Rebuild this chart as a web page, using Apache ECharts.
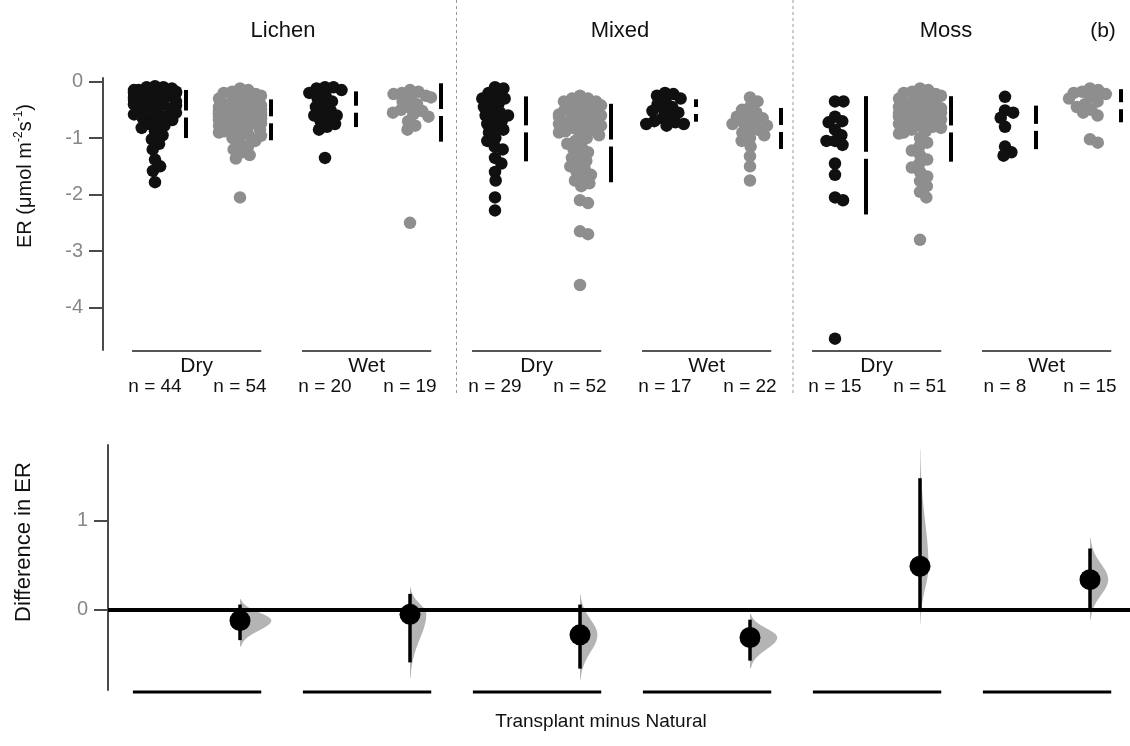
<!DOCTYPE html>
<html>
<head>
<meta charset="utf-8">
<script src="https://cdn.jsdelivr.net/npm/echarts@6/dist/echarts.min.js"></script>
<style>html,body{margin:0;background:#fff}#main{width:1130px;height:746px}</style>
</head>
<body>
<div id="main"></div>
<script>
var font = 'Liberation Sans, Arial, sans-serif';

// ER values, natural (black) and transplant (grey) for each habitat / moisture group
var lichenDryNat = [-0.08,-0.1,-0.1,-0.12,-0.15,-0.15,-0.18,-0.2,-0.2,-0.22,-0.25,-0.25,-0.28,-0.3,-0.3,-0.32,-0.35,-0.38,-0.4,-0.4,-0.42,-0.45,-0.48,-0.5,-0.52,-0.55,-0.58,-0.6,-0.62,-0.65,-0.68,-0.7,-0.75,-0.78,-0.82,-0.88,-0.95,-1.02,-1.1,-1.2,-1.38,-1.5,-1.58,-1.78];
var lichenDryTrans = [-0.12,-0.15,-0.18,-0.2,-0.22,-0.25,-0.28,-0.3,-0.32,-0.35,-0.38,-0.4,-0.42,-0.45,-0.45,-0.48,-0.5,-0.5,-0.52,-0.53,-0.55,-0.55,-0.56,-0.58,-0.58,-0.6,-0.6,-0.62,-0.63,-0.65,-0.66,-0.68,-0.7,-0.72,-0.74,-0.76,-0.78,-0.8,-0.82,-0.85,-0.88,-0.9,-0.93,-0.96,-1.0,-1.05,-1.1,-1.15,-1.2,-1.25,-1.3,-1.36,-0.95,-2.05];
var lichenWetNat = [-0.1,-0.1,-0.12,-0.15,-0.2,-0.25,-0.3,-0.35,-0.4,-0.45,-0.5,-0.55,-0.6,-0.6,-0.65,-0.7,-0.75,-0.8,-0.85,-1.35];
var lichenWetTrans = [-0.15,-0.18,-0.2,-0.22,-0.25,-0.28,-0.3,-0.35,-0.4,-0.45,-0.5,-0.52,-0.55,-0.58,-0.62,-0.7,-0.78,-0.85,-2.5];
var mixedDryNat = [-0.1,-0.12,-0.2,-0.25,-0.3,-0.3,-0.35,-0.4,-0.45,-0.5,-0.55,-0.6,-0.6,-0.65,-0.7,-0.75,-0.8,-0.85,-0.9,-1.0,-1.05,-1.15,-1.2,-1.35,-1.45,-1.6,-1.75,-2.05,-2.28];
var mixedDryTrans = [-0.25,-0.3,-0.3,-0.35,-0.35,-0.4,-0.42,-0.45,-0.48,-0.5,-0.52,-0.55,-0.58,-0.6,-0.6,-0.62,-0.65,-0.68,-0.7,-0.72,-0.75,-0.78,-0.8,-0.82,-0.85,-0.88,-0.9,-0.92,-0.95,-1.0,-1.05,-1.1,-1.15,-1.2,-1.25,-1.3,-1.35,-1.4,-1.45,-1.5,-1.55,-1.6,-1.65,-1.7,-1.75,-1.8,-1.85,-2.1,-2.15,-2.65,-2.7,-3.6];
var mixedWetNat = [-0.2,-0.22,-0.25,-0.3,-0.35,-0.4,-0.45,-0.5,-0.52,-0.55,-0.6,-0.65,-0.7,-0.72,-0.75,-0.75,-0.78];
var mixedWetTrans = [-0.28,-0.35,-0.45,-0.5,-0.55,-0.6,-0.62,-0.65,-0.7,-0.72,-0.75,-0.78,-0.82,-0.85,-0.9,-0.95,-1.0,-1.05,-1.15,-1.32,-1.5,-1.75];
var mossDryNat = [-0.35,-0.35,-0.62,-0.7,-0.72,-0.85,-0.95,-1.05,-1.05,-1.12,-1.45,-1.65,-2.05,-2.1,-4.55];
var mossDryTrans = [-0.12,-0.15,-0.18,-0.2,-0.22,-0.25,-0.27,-0.3,-0.32,-0.35,-0.37,-0.4,-0.42,-0.45,-0.47,-0.5,-0.5,-0.52,-0.55,-0.55,-0.58,-0.6,-0.6,-0.62,-0.65,-0.67,-0.7,-0.72,-0.75,-0.78,-0.8,-0.82,-0.85,-0.88,-0.9,-0.92,-1.0,-1.08,-1.15,-1.22,-1.3,-1.38,-1.45,-1.52,-1.6,-1.68,-1.76,-1.85,-1.95,-2.05,-2.8];
var mossWetNat = [-0.27,-0.51,-0.55,-0.64,-0.8,-1.15,-1.25,-1.31];
var mossWetTrans = [-0.12,-0.15,-0.18,-0.2,-0.22,-0.28,-0.3,-0.35,-0.4,-0.45,-0.5,-0.55,-0.6,-1.02,-1.08];

var groups = [lichenDryNat, lichenDryTrans, lichenWetNat, lichenWetTrans,
              mixedDryNat, mixedDryTrans, mixedWetNat, mixedWetTrans,
              mossDryNat, mossDryTrans, mossWetNat, mossWetTrans];
var pairLabels = ['Dry', 'Wet', 'Dry', 'Wet', 'Dry', 'Wet'];
var facetLabels = ['Lichen', 'Mixed', 'Moss'];

// transplant minus natural: mean difference and 95% CI
var diffMean = [-0.12, -0.05, -0.28, -0.31, 0.49, 0.34];
var diffLow = [-0.34, -0.59, -0.66, -0.57, 0.0, 0.0];
var diffHigh = [0.06, 0.18, 0.06, -0.11, 1.48, 0.69];

var erTicks = [0, -1, -2, -3, -4];
var diffTicks = [0, 1];

// layout: slot k sits at pixel 155 + 85 k in both panels
var PX_SLOT = 85, SLOT0 = 155;
var TOP = {left: 103, top: 78, height: 272, min: -4.75, max: 0.064};
var BOT = {left: 108, top: 445, height: 245, min: -0.9, max: 1.853};
[TOP, BOT].forEach(function (g) {
  g.xmin = (g.left - SLOT0) / PX_SLOT;
  g.xmax = (1130 - SLOT0) / PX_SLOT;
  g.width = 1130 - g.left;
});
var pxY = TOP.height / (TOP.max - TOP.min);

function mean(a) { return a.reduce(function (s, v) { return s + v; }, 0) / a.length; }
function sd(a) {
  var m = mean(a);
  return Math.sqrt(a.reduce(function (s, v) { return s + (v - m) * (v - m); }, 0) / (a.length - 1));
}

// beeswarm: horizontal pixel offsets, points beyond the gutter are pushed back to it
function swarm(vals, d, gutter) {
  var idx = vals.map(function (v, i) { return i; }).sort(function (a, b) { return vals[b] - vals[a]; });
  var placed = [], off = [];
  idx.forEach(function (i) {
    var y = vals[i] * pxY;
    var cands = [0];
    placed.forEach(function (p) {
      var dy = y - p.y;
      if (Math.abs(dy) < d) {
        var dx = Math.sqrt(d * d - dy * dy);
        cands.push(p.x + dx, p.x - dx);
      }
    });
    cands.sort(function (a, b) { return Math.abs(a) - Math.abs(b); });
    for (var c = 0; c < cands.length; c++) {
      var cx = cands[c];
      var ok = placed.every(function (p) { return (p.x - cx) * (p.x - cx) + (p.y - y) * (p.y - y) >= d * d - 0.01; });
      if (ok) { off[i] = cx; placed.push({x: cx, y: y}); break; }
    }
  });
  return off.map(function (o) { return Math.max(-gutter, Math.min(gutter, o)); });
}

var series = [];

groups.forEach(function (vals, k) {
  var off = swarm(vals, 8.5, 21);
  series.push({
    type: 'scatter', xAxisIndex: 0, yAxisIndex: 0, silent: true, z: 3,
    symbolSize: 12.5,
    itemStyle: {color: k % 2 ? '#8e8e8e' : '#101010', opacity: 1},
    data: vals.map(function (v, i) { return [k + off[i] / PX_SLOT, v]; })
  });
});

// mean +/- sd gapped bars
series.push({
  type: 'custom', xAxisIndex: 0, yAxisIndex: 0, silent: true, z: 4,
  data: groups.map(function (g, k) { return [k + 0.365, mean(g), sd(g)]; }),
  encode: {x: 0, y: 1},
  renderItem: function (params, api) {
    var x = api.value(0), m = api.value(1), s = api.value(2);
    var t = api.coord([x, m + s]), c = api.coord([x, m]), b = api.coord([x, m - s]);
    var st = {stroke: '#000', lineWidth: 4};
    return {type: 'group', children: [
      {type: 'line', shape: {x1: t[0], y1: t[1], x2: c[0], y2: c[1] - 3.5}, style: st},
      {type: 'line', shape: {x1: c[0], y1: c[1] + 3.5, x2: b[0], y2: b[1]}, style: st}
    ]};
  }
});

// group underlines and labels of the top panel
series.push({
  type: 'custom', xAxisIndex: 0, yAxisIndex: 0, silent: true, clip: false, z: 4,
  data: pairLabels.map(function (l, j) { return [j, TOP.min]; }),
  encode: {x: 0, y: 1},
  renderItem: function (params, api) {
    var j = api.value(0);
    var a = api.coord([2 * j - 0.27, TOP.min]), b = api.coord([2 * j + 1.25, TOP.min]);
    var n1 = api.coord([2 * j, TOP.min]), n2 = api.coord([2 * j + 1, TOP.min]);
    var y = a[1] + 1;
    var tf = {fill: '#111', fontFamily: font, align: 'center', verticalAlign: 'middle'};
    return {type: 'group', children: [
      {type: 'line', shape: {x1: a[0], y1: y, x2: b[0], y2: y}, style: {stroke: '#555', lineWidth: 2}},
      {type: 'text', style: Object.assign({text: pairLabels[j], x: (a[0] + b[0]) / 2, y: y + 15, fontSize: 21}, tf)},
      {type: 'text', style: Object.assign({text: 'n = ' + groups[2 * j].length, x: n1[0], y: y + 36, fontSize: 19}, tf)},
      {type: 'text', style: Object.assign({text: 'n = ' + groups[2 * j + 1].length, x: n2[0], y: y + 36, fontSize: 19}, tf)}
    ]};
  }
});

var diffData = diffMean.map(function (m, j) { return [2 * j + 1, m, diffLow[j], diffHigh[j]]; });

// bootstrap distributions (half violins)
series.push({
  type: 'custom', xAxisIndex: 1, yAxisIndex: 1, silent: true, z: 2,
  data: diffData, encode: {x: 0, y: 1},
  renderItem: function (params, api) {
    var x = api.value(0), m = api.value(1), lo = api.value(2), hi = api.value(3);
    var sUp = (hi - m) / 1.96, sDn = (m - lo) / 1.96;
    var w = 3.2 / ((sUp + sDn) / 2), T = 2.6;
    var pts = [api.coord([x, m - T * sDn])];
    for (var t = -T; t <= T + 0.001; t += 0.1) {
      var p = api.coord([x, m + (t > 0 ? t * sUp : t * sDn)]);
      pts.push([p[0] + w * Math.exp(-t * t / 2), p[1]]);
    }
    pts.push(api.coord([x, m + T * sUp]));
    return {type: 'polygon', shape: {points: pts}, style: {fill: '#b4b4b4'}};
  }
});

// zero reference line
series.push({
  type: 'line', xAxisIndex: 1, yAxisIndex: 1, data: [], z: 3,
  markLine: {silent: true, symbol: 'none', label: {show: false},
    lineStyle: {color: '#000', width: 4, type: 'solid'}, data: [{yAxis: 0}]}
});

// confidence intervals
series.push({
  type: 'custom', xAxisIndex: 1, yAxisIndex: 1, silent: true, z: 4,
  data: diffData, encode: {x: 0, y: 1},
  renderItem: function (params, api) {
    var x = api.value(0);
    var lo = api.coord([x, api.value(2)]), hi = api.coord([x, api.value(3)]);
    return {type: 'line', shape: {x1: lo[0], y1: lo[1], x2: hi[0], y2: hi[1]}, style: {stroke: '#000', lineWidth: 3.5}};
  }
});

series.push({
  type: 'scatter', xAxisIndex: 1, yAxisIndex: 1, silent: true, z: 5,
  symbolSize: 21, itemStyle: {color: '#000', opacity: 1},
  data: diffData.map(function (d) { return [d[0], d[1]]; })
});

// underlines of the bottom panel
series.push({
  type: 'custom', xAxisIndex: 1, yAxisIndex: 1, silent: true, clip: false, z: 4,
  data: pairLabels.map(function (l, j) { return [j, BOT.min]; }),
  encode: {x: 0, y: 1},
  renderItem: function (params, api) {
    var j = api.value(0);
    var a = api.coord([2 * j - 0.26, BOT.min]), b = api.coord([2 * j + 1.25, BOT.min]);
    return {type: 'line', shape: {x1: a[0], y1: a[1] + 2, x2: b[0], y2: b[1] + 2}, style: {stroke: '#000', lineWidth: 3}};
  }
});

function yAxisStyle(ticks) {
  return {
    type: 'value', splitLine: {show: false},
    axisLine: {show: true, onZero: false, lineStyle: {color: '#4a4a4a', width: 2}},
    axisTick: {show: true, length: 14, customValues: ticks, lineStyle: {color: '#4a4a4a', width: 2}},
    axisLabel: {customValues: ticks, color: '#888', fontSize: 20, margin: 20, fontFamily: font}
  };
}

var yTop = Object.assign(yAxisStyle(erTicks), {gridIndex: 0, min: TOP.min, max: TOP.max});
var yBot = Object.assign(yAxisStyle(diffTicks), {gridIndex: 1, min: BOT.min, max: BOT.max});

var graphics = [];
[456.5, 793].forEach(function (x) {
  graphics.push({type: 'line', shape: {x1: x, y1: 0, x2: x, y2: 395},
    style: {stroke: '#9a9a9a', lineWidth: 1, lineDash: [3, 3]}, silent: true});
});
var facetX = [283, 620, 946];
facetLabels.forEach(function (t, i) {
  graphics.push({type: 'text', x: facetX[i], y: 31, silent: true,
    style: {text: t, font: '22px ' + font, fill: '#111', align: 'center', verticalAlign: 'middle'}});
});
graphics.push({type: 'text', x: 1103, y: 31, silent: true,
  style: {text: '(b)', font: '21px ' + font, fill: '#111', align: 'center', verticalAlign: 'middle'}});
graphics.push({type: 'text', x: 601, y: 722, silent: true,
  style: {text: 'Transplant minus Natural', font: '19px ' + font, fill: '#111', align: 'center', verticalAlign: 'middle'}});
// axis titles
graphics.push({type: 'text', x: 25, y: 176, rotation: Math.PI / 2, silent: true,
  style: {text: 'ER (\u03bcmol m{s|-2}s{s|-1})', fontSize: 20, fontFamily: font, fill: '#111',
    align: 'center', verticalAlign: 'middle', lineHeight: 24,
    rich: {s: {fontSize: 12, lineHeight: 12, verticalAlign: 'top', fontFamily: font, fill: '#111'}}}});
graphics.push({type: 'text', x: 24, y: 542, rotation: Math.PI / 2, silent: true,
  style: {text: 'Difference in ER', fontSize: 22, fontFamily: font, fill: '#111',
    align: 'center', verticalAlign: 'middle'}});

var chart = echarts.init(document.getElementById('main'));
chart.setOption({
  backgroundColor: '#fff',
  animation: false,
  grid: [
    {left: TOP.left, width: TOP.width, top: TOP.top, height: TOP.height},
    {left: BOT.left, width: BOT.width, top: BOT.top, height: BOT.height}
  ],
  xAxis: [
    {gridIndex: 0, type: 'value', min: TOP.xmin, max: TOP.xmax, show: false},
    {gridIndex: 1, type: 'value', min: BOT.xmin, max: BOT.xmax, show: false}
  ],
  yAxis: [yTop, yBot],
  graphic: graphics,
  series: series
});
</script>
</body>
</html>
